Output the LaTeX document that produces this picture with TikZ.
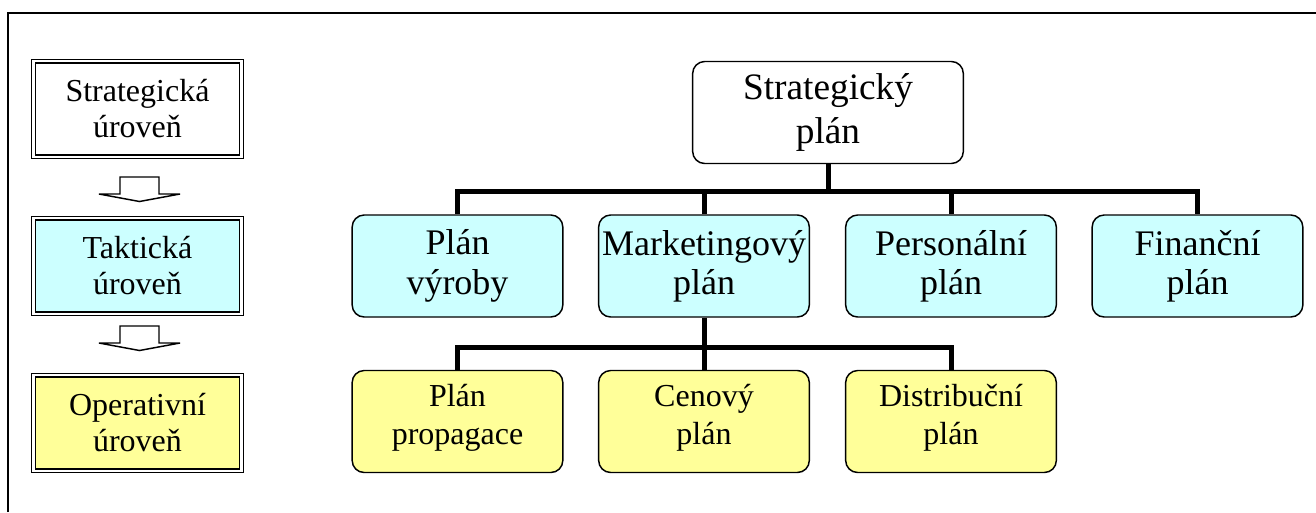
\documentclass[tikz,border=0pt]{standalone}
\usepackage{fontspec}
\setmainfont{Liberation Serif}
\definecolor{lightcyan}{HTML}{CCFFFF}
\definecolor{lightyellow}{HTML}{FFFF99}
\begin{document}
\begin{tikzpicture}[x=0.75pt,y=-0.75pt,
  levelbox/.style={draw, line width=1pt, double=white, double distance=1.6pt,
    minimum width=156pt, minimum height=71.6pt, inner sep=0pt, align=center,
    font=\fontsize{24}{27}\selectfont},
  planbox/.style={draw, line width=1.1pt, rounded corners=9pt,
    minimum width=158pt, minimum height=76.5pt, inner sep=0pt, align=center},
  midfont/.style={font=\fontsize{27}{29.5}\selectfont},
  lowfont/.style={font=\fontsize{24}{28.5}\selectfont, text depth=10pt},
  conn/.style={line width=3.75pt, line join=miter},
  blockarrow/.style={draw, line width=1.1pt, fill=white}
]
\useasboundingbox (0,0) rectangle (1316,512);

% frame
\draw[line width=1.5pt] (8,512) -- (8,13) -- (1316,13);

% planning levels on the left
\node[levelbox] (lvlS) at (137.5,109) {Strategická\\úroveň};
\node[levelbox, fill=lightcyan] (lvlT) at (137.5,266) {Taktická\\úroveň};
\node[levelbox, fill=lightyellow] (lvlO) at (137.5,423) {Operativní\\úroveň};

% down arrows between the levels
\foreach \dy in {0,149}{
  \draw[blockarrow] (120,177+\dy) -- (159,177+\dy) -- (159,194+\dy) -- (180,194+\dy)
    -- (139.5,201.5+\dy) -- (99,194+\dy) -- (120,194+\dy) -- cycle;
}

% plan hierarchy
\node[planbox, fill=white, minimum width=203pt, minimum height=76.5pt,
  font=\fontsize{28}{33}\selectfont] (sp) at (828,112.5) {Strategický\\plán};

\node[planbox, fill=lightcyan, midfont] (pv) at (457.5,266) {Plán\\výroby};
\node[planbox, fill=lightcyan, midfont] (mp) at (704,266) {Marketingový\\plán};
\node[planbox, fill=lightcyan, midfont] (pe) at (951,266) {Personální\\plán};
\node[planbox, fill=lightcyan, midfont] (fp) at (1197.5,266) {Finanční\\plán};

\node[planbox, fill=lightyellow, lowfont] (pr) at (457.5,421.5) {Plán\\propagace};
\node[planbox, fill=lightyellow, lowfont] (ce) at (704,421.5) {Cenový\\plán};
\node[planbox, fill=lightyellow, lowfont] (di) at (951,421.5) {Distribuční\\plán};

% connectors
\coordinate (busA) at (828,191);
\coordinate (busB) at (704,347);
\draw[conn] (pv.north) |- (busA) -| (fp.north);
\draw[conn] (sp.south) -- (busA);
\draw[conn] (mp.north) -- (mp.north |- busA);
\draw[conn] (pe.north) -- (pe.north |- busA);

\draw[conn] (pr.north) |- (busB) -| (di.north);
\draw[conn] (mp.south) -- (ce.north);
\end{tikzpicture}
\end{document}
